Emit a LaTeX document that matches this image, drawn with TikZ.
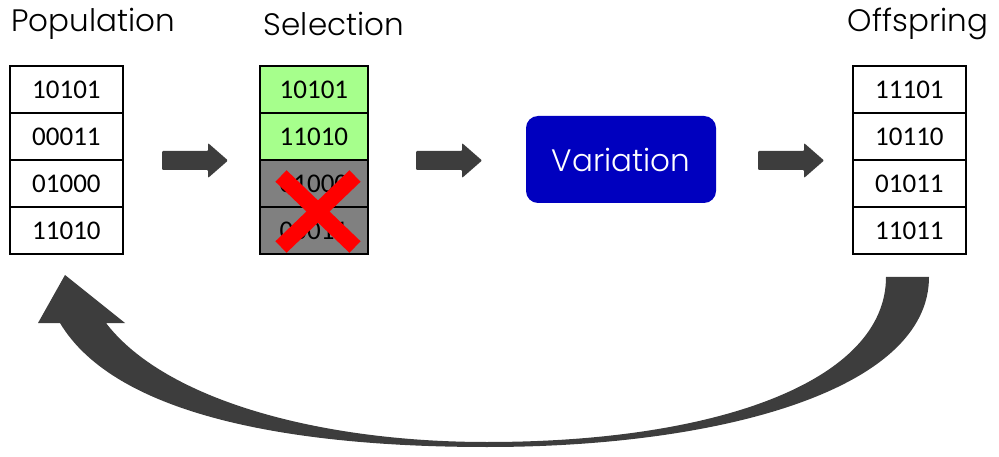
\documentclass[tikz,border=0pt]{standalone}
\usepackage{fontspec}
\setmainfont{Poppins Light}
\newfontfamily\numfont{Carlito}
\begin{document}
\begin{tikzpicture}[x=1pt,y=-1pt,
  cell/.style={draw=black,line width=1.8pt,minimum width=113pt,minimum height=47pt,inner sep=0pt,font=\numfont\fontsize{27}{27}\selectfont,anchor=north west},
  title/.style={font=\fontsize{31}{31}\selectfont,text=black}]
\useasboundingbox (0,0) rectangle (999,457);
\definecolor{keepgreen}{HTML}{A6FF8C}
\definecolor{varblue}{HTML}{0000BF}
\definecolor{arrowgray}{HTML}{3D3D3D}
% titles
\node[title] (tpop) at (93,24) {Population};
\node[title] (tsel) at (334,24) {Selection};
\node[title] (toff) at (918,24) {Offspring};
% population
\node[cell] (p1) at (9,65) {10101};
\node[cell] (p2) at (9,112) {00011};
\node[cell] (p3) at (9,159) {01000};
\node[cell] (p4) at (9,206) {11010};
% selection
\node[cell,minimum width=108pt,fill=keepgreen] (s1) at (259,65) {10101};
\node[cell,minimum width=108pt,fill=keepgreen] (s2) at (259,112) {11010};
\node[cell,minimum width=108pt,fill=black!50] (s3) at (259,159) {01000};
\node[cell,minimum width=108pt,fill=black!50] (s4) at (259,206) {00011};
% cross
\draw[red,line width=16pt] (281,176) -- (355,247);
\draw[red,line width=16pt] (355,176) -- (281,247);
% offspring
\node[cell] (o1) at (852,65) {11101};
\node[cell] (o2) at (852,112) {10110};
\node[cell] (o3) at (852,159) {01011};
\node[cell] (o4) at (852,206) {11011};
% variation
\node[fill=varblue,rounded corners=12pt,minimum width=190pt,minimum height=87pt,text=white,font=\fontsize{31}{31}\selectfont] (var) at (621,159.5) {Variation};
% block arrows
\foreach \x in {162,416,758}{
  \fill[arrowgray,rounded corners=1pt] (\x,151) -- (\x+46,151) -- (\x+46,143) -- (\x+66,160.5) -- (\x+46,178) -- (\x+46,170) -- (\x,170) -- cycle;
}
% big curved arrow
\fill[arrowgray]
  (929,277) .. controls (929,390) and (720,447) .. (487,447)
  .. controls (290,447) and (115,415) .. (60,323)
  -- (38,323) -- (65,275) -- (125,323) -- (106,323)
  .. controls (165,400) and (320,442) .. (487,442)
  .. controls (720,442) and (886,380) .. (886,277) -- cycle;
\end{tikzpicture}
\end{document}
